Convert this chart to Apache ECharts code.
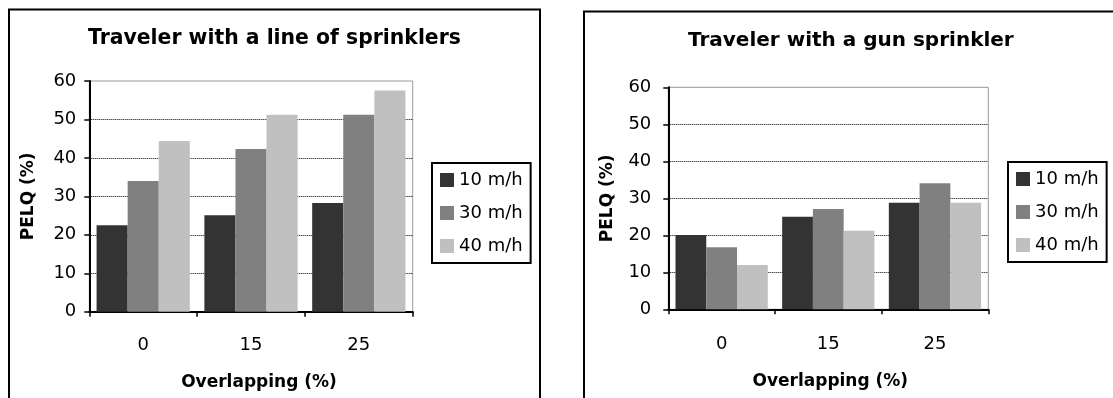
<!DOCTYPE html>
<html>
<head>
<meta charset="utf-8">
<script src="https://cdn.jsdelivr.net/npm/echarts@6/dist/echarts.min.js"></script>
<style>
html,body{margin:0;padding:0;background:#fff;}
#c{width:1113px;height:398px;}
</style>
</head>
<body>
<div id="c"></div>
<script>
// ---- data ----
var categories = ['0', '15', '25'];
var seriesNames = ['10 m/h', '30 m/h', '40 m/h'];
var lineTitle = 'Traveler with a line of sprinklers';
var gunTitle = 'Traveler with a gun sprinkler';
var xName = 'Overlapping (%)';
var yName = 'PELQ (%)';
var line10 = [22.5, 25.1, 28.3];
var line30 = [34.0, 42.3, 51.2];
var line40 = [44.4, 51.2, 57.5];
var gun10 = [20.1, 25.0, 28.8];
var gun30 = [16.8, 27.1, 34.1];
var gun40 = [12.0, 21.2, 28.8];
var yMin = 0, yMax = 60, yStep = 10;

// ---- styling ----
var colors = ['#333333', '#808080', '#c0c0c0'];
var FONT = 'DejaVu Sans';

function xAxisCfg(gridIndex, labelMargin, nameGap, namePadLeft) {
  return {
    type: 'category', gridIndex: gridIndex, data: categories,
    axisLine: {lineStyle: {color: '#000', width: 2}},
    axisTick: {show: true, length: 5, lineStyle: {color: '#000', width: 1.5}},
    axisLabel: {margin: labelMargin, color: '#000', fontFamily: FONT, fontSize: 18},
    name: xName, nameLocation: 'middle', nameGap: nameGap,
    nameTextStyle: {color: '#000', fontFamily: FONT, fontSize: 17, fontWeight: 'bold', padding: [0, 0, 0, namePadLeft]},
    splitLine: {show: false}
  };
}
function yAxisCfg(gridIndex, labelMargin, nameGap) {
  return {
    type: 'value', gridIndex: gridIndex, min: yMin, max: yMax, interval: yStep,
    axisLine: {show: true, lineStyle: {color: '#000', width: 2}},
    axisTick: {show: true, length: 5, lineStyle: {color: '#000', width: 1.5}},
    axisLabel: {margin: labelMargin, color: '#000', fontFamily: FONT, fontSize: 18},
    name: yName, nameLocation: 'middle', nameGap: nameGap, nameRotate: 90,
    nameTextStyle: {color: '#000', fontFamily: FONT, fontSize: 17, fontWeight: 'bold'},
    splitLine: {show: true, showMaxLine: false, showMinLine: false, lineStyle: {color: '#000', type: [1, 1], width: 1}}
  };
}
function barSeries(name, data, idx, axisIdx) {
  return {
    type: 'bar', name: name, data: data, xAxisIndex: axisIdx, yAxisIndex: axisIdx,
    barGap: '0%', barCategoryGap: '13.5%',
    itemStyle: {color: colors[idx]}, emphasis: {disabled: true}, animation: false
  };
}
function legendCfg(left, top) {
  return {
    data: seriesNames, orient: 'vertical', left: left, top: top,
    icon: 'rect', itemWidth: 14, itemHeight: 14, itemGap: 15, padding: 8,
    borderColor: '#000', borderWidth: 2, backgroundColor: '#fff',
    textStyle: {color: '#000', fontFamily: FONT, fontSize: 18}
  };
}

var chart = echarts.init(document.getElementById('c'), null, {renderer: 'canvas'});
chart.setOption({
  backgroundColor: '#fff',
  animation: false,
  title: [
    {text: lineTitle, left: 88, top: 29, padding: 0,
     textStyle: {color: '#000', fontFamily: FONT, fontSize: 20.4, fontWeight: 'bold', lineHeight: 20}},
    {text: gunTitle, left: 688, top: 31, padding: 0,
     textStyle: {color: '#000', fontFamily: FONT, fontSize: 20, fontWeight: 'bold', lineHeight: 20}}
  ],
  legend: [legendCfg(432, 163), legendCfg(1008, 162)],
  grid: [
    {left: 89.3, top: 81, width: 323.4, height: 230.7, show: true, borderColor: '#999', borderWidth: 1, backgroundColor: '#fff'},
    {left: 668.3, top: 87.3, width: 320, height: 222, show: true, borderColor: '#999', borderWidth: 1, backgroundColor: '#fff'}
  ],
  xAxis: [xAxisCfg(0, 25, 62, 16), xAxisCfg(1, 26, 64, 4)],
  yAxis: [yAxisCfg(0, 13, 52), yAxisCfg(1, 17, 52)],
  series: [
    barSeries(seriesNames[0], line10, 0, 0),
    barSeries(seriesNames[1], line30, 1, 0),
    barSeries(seriesNames[2], line40, 2, 0),
    barSeries(seriesNames[0], gun10, 0, 1),
    barSeries(seriesNames[1], gun30, 1, 1),
    barSeries(seriesNames[2], gun40, 2, 1)
  ],
  graphic: [
    {type: 'rect', silent: true, z: -10, shape: {x: 9, y: 9.5, width: 531, height: 500},
     style: {fill: 'none', stroke: '#000', lineWidth: 2}},
    {type: 'rect', silent: true, z: -10, shape: {x: 584, y: 11.5, width: 600, height: 500},
     style: {fill: 'none', stroke: '#000', lineWidth: 2}}
  ]
});
</script>
</body>
</html>
